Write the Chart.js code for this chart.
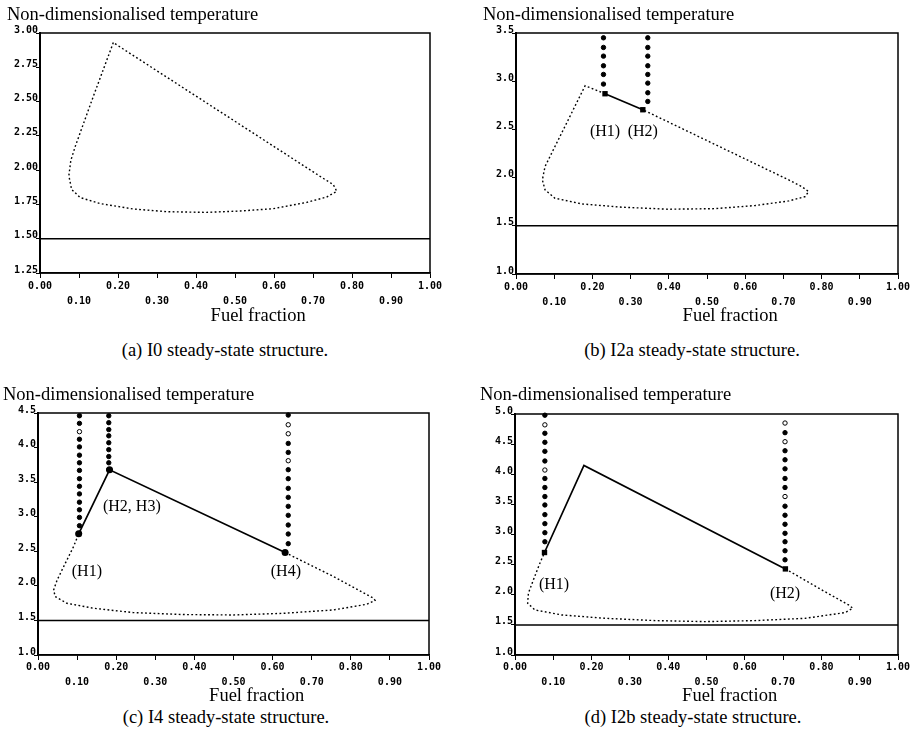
<!DOCTYPE html>
<html>
<head>
<meta charset="utf-8">
<script src="https://cdn.jsdelivr.net/npm/chart.js@4/dist/chart.umd.min.js"></script>
<style>
  body { margin: 0; background: #fff; width: 915px; height: 748px; position: relative; overflow: hidden; }
  canvas { position: absolute; }
  .cap { position: absolute; font: 18.5px "Liberation Serif", serif; color: #000; transform: translateX(-50%); white-space: nowrap; }
</style>
</head>
<body>
<canvas id="chartA" width="450" height="330" style="left:0;top:0"></canvas>
<canvas id="chartB" width="460" height="330" style="left:455px;top:0"></canvas>
<canvas id="chartC" width="450" height="337" style="left:0;top:370px"></canvas>
<canvas id="chartD" width="460" height="337" style="left:455px;top:370px"></canvas>
<div class="cap" style="left:225px;top:340px">(a) I0 steady-state structure.</div>
<div class="cap" style="left:692px;top:340px">(b) I2a steady-state structure.</div>
<div class="cap" style="left:226px;top:707px">(c) I4 steady-state structure.</div>
<div class="cap" style="left:693px;top:707px">(d) I2b steady-state structure.</div>
<script>
// x axis, shared by all panels
const xTickValues = [0, 0.1, 0.2, 0.3, 0.4, 0.5, 0.6, 0.7, 0.8, 0.9, 1.0];
const xTickLabels = ['0.00', '0.10', '0.20', '0.30', '0.40', '0.50', '0.60', '0.70', '0.80', '0.90', '1.00'];

// the flat ambient branch
const ambientX = [0, 1];
const ambientY = [1.5, 1.5];

// (a) I0
const aYTicks = [1.25, 1.5, 1.75, 2.0, 2.25, 2.5, 2.75, 3.0];
const aYLabels = ['1.25', '1.50', '1.75', '2.00', '2.25', '2.50', '2.75', '3.00'];
const aLoopX = [0.188, 0.137, 0.090, 0.079, 0.074, 0.081, 0.103, 0.154, 0.239, 0.325, 0.427, 0.513, 0.598, 0.684, 0.735, 0.761, 0.752, 0.718, 0.188];
const aLoopY = [2.93, 2.54, 2.17, 2.07, 1.96, 1.86, 1.80, 1.756, 1.717, 1.697, 1.692, 1.702, 1.719, 1.765, 1.804, 1.845, 1.894, 1.955, 2.93];

// (b) I2a
const bYTicks = [1.0, 1.5, 2.0, 2.5, 3.0, 3.5];
const bYLabels = ['1.0', '1.5', '2.0', '2.5', '3.0', '3.5'];
const bDottedX = [0.233, 0.181, 0.076, 0.069, 0.076, 0.102, 0.172, 0.277, 0.399, 0.521, 0.626, 0.714, 0.757, 0.766, 0.748, 0.714, 0.332];
const bDottedY = [2.870, 2.953, 2.115, 1.976, 1.873, 1.786, 1.727, 1.693, 1.672, 1.678, 1.710, 1.758, 1.803, 1.855, 1.907, 1.976, 2.704];
const bSolidX = [0.233, 0.332];
const bSolidY = [2.870, 2.704];
const bHopfX = [0.233, 0.332];
const bHopfY = [2.870, 2.704];
const bCol1X = 0.229;
const bCol1Y = [3.45, 3.35, 3.26, 3.16, 3.07, 2.97];
const bCol2X = 0.345;
const bCol2Y = [3.45, 3.35, 3.26, 3.16, 3.07, 2.98, 2.88, 2.79];
const bLabelText = ['(H1)', '(H2)'];
const bLabelX = [0.233, 0.332];
const bLabelY = [2.47, 2.47];

// (c) I4
const cYTicks = [1.0, 1.5, 2.0, 2.5, 3.0, 3.5, 4.0, 4.5];
const cYLabels = ['1.0', '1.5', '2.0', '2.5', '3.0', '3.5', '4.0', '4.5'];
const cSolidX = [0.104, 0.183, 0.632];
const cSolidY = [2.752, 3.679, 2.482];
const cDottedX = [0.632, 0.756, 0.858, 0.862, 0.841, 0.756, 0.628, 0.500, 0.372, 0.244, 0.142, 0.074, 0.044, 0.040, 0.049, 0.070, 0.091, 0.104];
const cDottedY = [2.482, 2.134, 1.821, 1.790, 1.734, 1.652, 1.603, 1.579, 1.585, 1.613, 1.676, 1.748, 1.845, 1.941, 2.086, 2.328, 2.569, 2.752];
const cHopfX = [0.104, 0.183, 0.632];
const cHopfY = [2.752, 3.679, 2.482];
const cCol1X = 0.106;
const cCol1Y = [4.46, 4.35, 4.23, 4.12, 4.01, 3.89, 3.78, 3.67, 3.55, 3.44, 3.33, 3.21, 3.10, 2.99, 2.87, 2.76];
const cCol1Open = [2];
const cCol2X = 0.181;
const cCol2Y = [4.46, 4.36, 4.26, 4.17, 4.07, 3.97, 3.87, 3.78, 3.68];
const cCol2Open = [];
const cCol3X = 0.640;
const cCol3Y = [4.47, 4.33, 4.20, 4.06, 3.93, 3.81, 3.68, 3.55, 3.41, 3.28, 3.15, 3.02, 2.88, 2.75, 2.61];
const cCol3Open = [1, 2, 5];
const cLabelText = ['(H1)', '(H2, H3)', '(H4)'];
const cLabelX = [0.125, 0.240, 0.634];
const cLabelY = [2.20, 3.14, 2.20];

// (d) I2b
const dYTicks = [1.0, 1.5, 2.0, 2.5, 3.0, 3.5, 4.0, 4.5, 5.0];
const dYLabels = ['1.0', '1.5', '2.0', '2.5', '3.0', '3.5', '4.0', '4.5', '5.0'];
const dSolidX = [0.077, 0.180, 0.706];
const dSolidY = [2.701, 4.147, 2.429];
const dDottedX = [0.706, 0.801, 0.871, 0.882, 0.862, 0.758, 0.627, 0.497, 0.366, 0.235, 0.122, 0.052, 0.033, 0.035, 0.048, 0.065, 0.077];
const dDottedY = [2.429, 2.080, 1.831, 1.776, 1.704, 1.609, 1.571, 1.554, 1.571, 1.609, 1.665, 1.748, 1.859, 2.025, 2.247, 2.524, 2.701];
const dHopfX = [0.077, 0.706];
const dHopfY = [2.701, 2.429];
const dCol1X = 0.078;
const dCol1Y = [4.98, 4.82, 4.68, 4.53, 4.38, 4.22, 4.07, 3.93, 3.78, 3.63, 3.49, 3.33, 3.18, 3.03, 2.88];
const dCol1Open = [1, 6];
const dCol2X = 0.705;
const dCol2Y = [4.85, 4.69, 4.54, 4.39, 4.24, 4.09, 3.93, 3.78, 3.63, 3.47, 3.32, 3.17, 3.02, 2.88, 2.73, 2.58];
const dCol2Open = [0, 2, 8];
const dLabelText = ['(H1)', '(H2)'];
const dLabelX = [0.102, 0.705];
const dLabelY = [2.16, 2.01];

const serif = '"Liberation Serif", "Times New Roman", serif';
const tickFont = { family: '"DejaVu Sans Mono", monospace', size: 10, weight: 'bold', lineHeight: 1.5 };

function pts(xs, ys) {
    return xs.map((x, i) => ({ x: x, y: ys[i] }));
}

function column(x, ys) {
    return ys.map(y => ({ x: x, y: y }));
}

function dottedLine(xs, ys) {
    return { data: pts(xs, ys), showLine: true, pointRadius: 0, borderColor: '#000', borderWidth: 1.4, borderDash: [1.8, 2.4], tension: 0, fill: false };
}

function solidLine(xs, ys, w) {
    return { data: pts(xs, ys), showLine: true, pointRadius: 0, borderColor: '#000', borderWidth: w || 1.7, tension: 0, fill: false };
}

function dotColumn(x, ys, open) {
    return {
        data: column(x, ys),
        showLine: false,
        pointRadius: 2.2,
        pointBorderWidth: 1,
        pointBorderColor: '#000',
        pointBackgroundColor: ys.map((y, i) => (open || []).includes(i) ? '#fff' : '#000'),
        clip: false
    };
}

function hopfMarks(xs, ys, style) {
    return { data: pts(xs, ys), showLine: false, pointStyle: style, pointRadius: style === 'rect' ? 3.8 : 3.5, pointBackgroundColor: '#000', pointBorderColor: '#000', pointBorderWidth: 0, clip: false };
}

const framePlugin = {
    id: 'frame',
    beforeDatasetsDraw(chart) {
        const { ctx, chartArea: a } = chart;
        ctx.save();
        ctx.strokeStyle = '#000';
        ctx.lineWidth = 1.5;
        ctx.strokeRect(a.left, a.top, a.right - a.left, a.bottom - a.top);
        ctx.restore();
    }
};

function labelPlugin(texts, xs, ys) {
    return {
        id: 'hopfLabels',
        afterDatasetsDraw(chart) {
            const ctx = chart.ctx;
            ctx.save();
            ctx.fillStyle = '#000';
            ctx.font = '16px ' + serif;
            ctx.textAlign = 'center';
            ctx.textBaseline = 'middle';
            texts.forEach((t, i) => {
                ctx.fillText(t, chart.scales.x.getPixelForValue(xs[i]), chart.scales.y.getPixelForValue(ys[i]));
            });
            ctx.restore();
        }
    };
}

function panel(id, o) {
    const plugins = [framePlugin];
    if (o.labels) plugins.push(labelPlugin(o.labels[0], o.labels[1], o.labels[2]));
    new Chart(document.getElementById(id), {
        type: 'scatter',
        data: { datasets: [solidLine(ambientX, ambientY, 1.5)].concat(o.datasets) },
        options: {
            responsive: false,
            animation: false,
            layout: { padding: { left: o.padLeft, right: o.padRight, top: 0, bottom: 0 } },
            plugins: {
                legend: { display: false },
                tooltip: { enabled: false },
                title: {
                    display: true,
                    text: 'Non-dimensionalised temperature',
                    align: 'start',
                    color: '#000',
                    font: { family: serif, size: 18.5, weight: 'normal', lineHeight: 1.2 },
                    padding: { top: o.titleTop, bottom: o.titleBottom }
                }
            },
            scales: {
                x: {
                    type: 'linear',
                    min: 0,
                    max: 1,
                    afterBuildTicks: s => { s.ticks = xTickValues.map(v => ({ value: v })); },
                    afterFit: s => { s.height = o.xHeight; },
                    border: { display: true, color: '#000', width: 1.5 },
                    grid: { display: true, drawOnChartArea: false, drawTicks: true, tickLength: 5, color: '#000', lineWidth: 1 },
                    ticks: {
                        autoSkip: false,
                        maxRotation: 0,
                        padding: o.tickPad,
                        color: '#000',
                        font: tickFont,
                        callback: (v, i) => i % 2 === 0 ? xTickLabels[i] : ['', xTickLabels[i]]
                    },
                    title: {
                        display: true,
                        text: '          Fuel fraction',
                        color: '#000',
                        font: { family: serif, size: 18.5, lineHeight: 1.2 },
                        padding: { top: 0, bottom: o.xTitleBottom }
                    }
                },
                y: {
                    type: 'linear',
                    min: o.yTicks[0],
                    max: o.yTicks[o.yTicks.length - 1],
                    afterBuildTicks: s => { s.ticks = o.yTicks.map(v => ({ value: v })); },
                    afterFit: s => { s.width = o.yWidth; },
                    border: { display: true, color: '#000', width: 2 },
                    grid: { display: true, drawOnChartArea: false, drawTicks: true, tickLength: 4, color: '#000', lineWidth: 1 },
                    ticks: {
                        padding: -2,
                        labelOffset: -3,
                        color: '#000',
                        font: tickFont,
                        callback: (v, i) => o.yLabels[i]
                    }
                }
            }
        },
        plugins: plugins
    });
}

panel('chartA', {
    padLeft: 7, padRight: 20, yWidth: 33, titleTop: 4, titleBottom: 6.8, xHeight: 57, xTitleBottom: 2.5, tickPad: 1,
    yTicks: aYTicks, yLabels: aYLabels,
    datasets: [dottedLine(aLoopX, aLoopY)]
});

panel('chartB', {
    padLeft: 28, padRight: 17, yWidth: 33, titleTop: 4, titleBottom: 6.8, xHeight: 56, xTitleBottom: 2.5, tickPad: 1,
    yTicks: bYTicks, yLabels: bYLabels,
    datasets: [
        dottedLine(bDottedX, bDottedY),
        solidLine(bSolidX, bSolidY),
        dotColumn(bCol1X, bCol1Y),
        dotColumn(bCol2X, bCol2Y),
        hopfMarks(bHopfX, bHopfY, 'rect')
    ],
    labels: [bLabelText, bLabelX, bLabelY]
});

panel('chartC', {
    padLeft: 3, padRight: 21, yWidth: 35, titleTop: 13.9, titleBottom: 6.9, xHeight: 52, xTitleBottom: 0, tickPad: 0,
    yTicks: cYTicks, yLabels: cYLabels,
    datasets: [
        dottedLine(cDottedX, cDottedY),
        solidLine(cSolidX, cSolidY),
        dotColumn(cCol1X, cCol1Y, cCol1Open),
        dotColumn(cCol2X, cCol2Y, cCol2Open),
        dotColumn(cCol3X, cCol3Y, cCol3Open),
        hopfMarks(cHopfX, cHopfY, 'circle')
    ],
    labels: [cLabelText, cLabelX, cLabelY]
});

panel('chartD', {
    padLeft: 25, padRight: 17, yWidth: 35, titleTop: 13.9, titleBottom: 7.9, xHeight: 52, xTitleBottom: 0, tickPad: 0,
    yTicks: dYTicks, yLabels: dYLabels,
    datasets: [
        dottedLine(dDottedX, dDottedY),
        solidLine(dSolidX, dSolidY),
        dotColumn(dCol1X, dCol1Y, dCol1Open),
        dotColumn(dCol2X, dCol2Y, dCol2Open),
        hopfMarks(dHopfX, dHopfY, 'rect')
    ],
    labels: [dLabelText, dLabelX, dLabelY]
});
</script>
</body>
</html>
